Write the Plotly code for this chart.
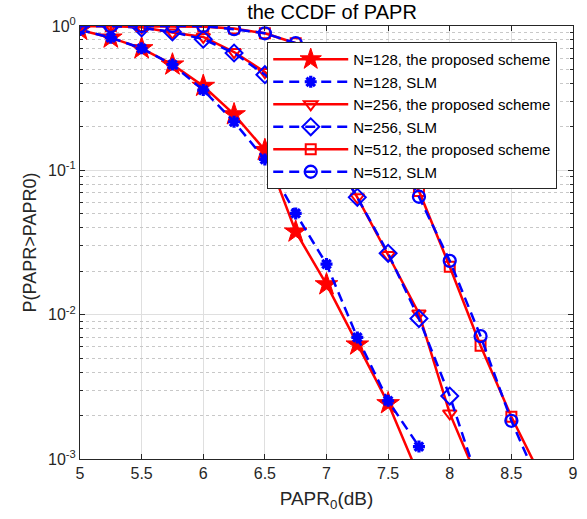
import plotly.graph_objects as go

papr0 = [5.0, 5.25, 5.5, 5.75, 6.0, 6.25, 6.5, 6.75, 7.0, 7.25, 7.5, 7.75, 8.0, 8.25, 8.5, 8.75]

n128_proposed = [0.94, 0.83, 0.70, 0.54, 0.384, 0.244, 0.138, 0.0376, 0.0162, 0.0062, 0.00243, 0.00076]
n128_slm = [0.94, 0.83, 0.70, 0.54, 0.36, 0.217, 0.119, 0.0503, 0.0224, 0.00696, 0.00253, 0.00122]
n256_proposed = [1.0, 1.0, 0.98, 0.90, 0.84, 0.66, 0.48, 0.295, 0.148, 0.065, 0.0259, 0.0102, 0.00207, 0.00065]
n256_slm = [1.0, 1.0, 0.97, 0.91, 0.81, 0.65, 0.46, 0.295, 0.148, 0.065, 0.0266, 0.0094, 0.00273, 0.00062]
n512_proposed = [1.0, 1.0, 1.0, 0.99, 0.99, 0.96, 0.89, 0.76, 0.52, 0.32, 0.166, 0.072, 0.0215, 0.0061, 0.00196, 0.00073]
n512_slm = [1.0, 1.0, 1.0, 1.0, 1.0, 0.95, 0.89, 0.76, 0.52, 0.32, 0.166, 0.0656, 0.0236, 0.0071, 0.00184, 0.0006]

y_major = [1e-3, 1e-2, 1e-1, 1e0]
y_major_text = ["10<sup>-3</sup>", "10<sup>-2</sup>", "10<sup>-1</sup>", "10<sup>0</sup>"]
y_minor = [m * 10 ** e for e in (-3, -2, -1) for m in range(2, 10)]
x_ticks = [5, 5.5, 6, 6.5, 7, 7.5, 8, 8.5, 9]

RED = "rgb(255,0,0)"
BLUE = "rgb(0,0,255)"
series = [
    ("N=128, the proposed scheme", n128_proposed, RED, "solid", "star", 17, 1),
    ("N=128, SLM", n128_slm, BLUE, "dash", "asterisk-open", 10, 3.2),
    ("N=256, the proposed scheme", n256_proposed, RED, "solid", "triangle-down-open", 12, 2),
    ("N=256, SLM", n256_slm, BLUE, "dash", "diamond-open", 13, 2),
    ("N=512, the proposed scheme", n512_proposed, RED, "solid", "square-open", 10, 2),
    ("N=512, SLM", n512_slm, BLUE, "dash", "circle-open", 12, 2.3),
]

fig = go.Figure()
for name, vals, col, dash, sym, size, mlw in series:
    fig.add_trace(go.Scatter(
        x=papr0[:len(vals)], y=vals, name=name, mode="lines+markers",
        line=dict(color=col, width=2.5, dash="10px,6px" if dash == "dash" else "solid"),
        marker=dict(symbol=sym, size=size, color=col, line=dict(color=col, width=mlw)),
        cliponaxis=True,
    ))

# invisible trace on an overlay axis that carries the dotted minor grid
fig.add_trace(go.Scatter(x=[5], y=[0.5], yaxis="y2", mode="markers",
                         marker=dict(opacity=0), showlegend=False, hoverinfo="skip"))

W, H = 587, 519
font = "Liberation Sans, Arial, Helvetica, sans-serif"
AX = "rgb(38,38,38)"
fig.update_layout(
    width=W, height=H,
    margin=dict(l=80, r=14, t=26, b=60, autoexpand=False),
    paper_bgcolor="white", plot_bgcolor="white",
    font=dict(family=font, size=16, color=AX),
    title=dict(text="the CCDF of PAPR", x=332 / W, xanchor="center",
               y=1 - 12 / H, yanchor="middle", font=dict(size=20, color="black")),
    showlegend=True,
    legend=dict(x=0.968, y=0.963, xanchor="right", yanchor="top",
                bgcolor="white", bordercolor=AX, borderwidth=1,
                font=dict(size=15, color="black"), tracegroupgap=0,
                itemwidth=75),
    xaxis=dict(range=[5, 9], tickvals=x_ticks, ticktext=[str(v) for v in x_ticks],
               showgrid=True, gridcolor="rgb(223,223,223)", gridwidth=1,
               showline=True, linecolor=AX, linewidth=1, mirror="ticks",
               ticks="inside", ticklen=5, tickcolor=AX, automargin=False,
               zeroline=False, tickfont=dict(size=16),
               title=dict(text="PAPR<sub>0</sub>(dB)", font=dict(size=19), standoff=10)),
    yaxis=dict(type="log", range=[-3, 0], tickvals=y_major, ticktext=y_major_text,
               showgrid=True, gridcolor="rgb(223,223,223)", gridwidth=1,
               showline=True, linecolor=AX, linewidth=1, mirror="ticks",
               ticks="inside", ticklen=5, tickcolor=AX, automargin=False,
               zeroline=False, tickfont=dict(size=16),
               title=dict(text="P(PAPR>PAPR0)", font=dict(size=18), standoff=6)),
    yaxis2=dict(type="log", range=[-3, 0], overlaying="y", side="left",
                tickvals=y_minor, showticklabels=False, automargin=False,
                showgrid=True, gridcolor="rgb(200,200,200)", griddash="dot", gridwidth=1,
                ticks="inside", ticklen=3, tickcolor=AX, mirror="ticks",
                showline=False, zeroline=False, layer="below traces"),
)

# remove the browser's default 8px page margin so the figure sits at the window origin
fig.write_html("out.html", config={"displayModeBar": False},
               post_script="document.body.style.margin='0';document.body.style.overflow='hidden';")
